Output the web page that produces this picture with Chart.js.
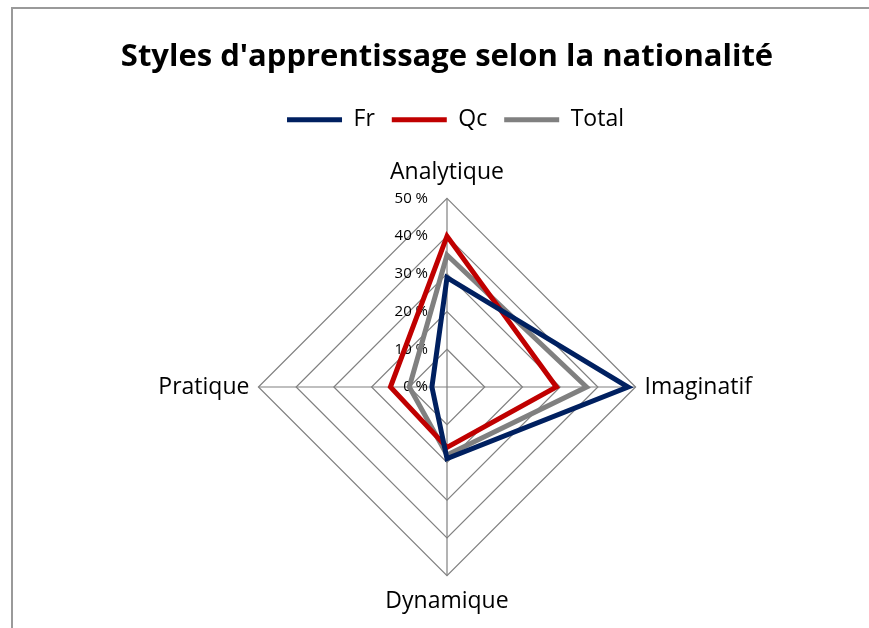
<!DOCTYPE html>
<html>
<head>
<meta charset="utf-8">
<script src="https://cdn.jsdelivr.net/npm/chart.js@4"></script>
<style>
  html, body { margin: 0; padding: 0; background: #fff; }
  #wrap { width: 869px; height: 628px; }
</style>
</head>
<body>
<div id="wrap"><canvas id="radar" width="869" height="628"></canvas></div>
<script>
var categories = ["Analytique", "Imaginatif", "Dynamique", "Pratique"];
var frValues = [29, 48, 19, 4];
var qcValues = [40, 29, 16, 15];
var totalValues = [35, 37, 18, 10];
var tickValues = [0, 10, 20, 30, 40, 50];

var font = "'Open Sans', 'DejaVu Sans', sans-serif";

var framePlugin = {
  id: "frame",
  beforeLayout: function(chart) {
    // a bit more room under the legend
    var lg = chart.legend;
    if (lg && !lg._patched) {
      var fit = lg.fit;
      lg.fit = function() {
        fit.call(this);
        this.height += 5;
      };
      lg._patched = true;
    }
  },
  afterLayout: function(chart) {
    // side padding is only meant for the plot, give the title the full width back
    if (chart.titleBlock) {
      chart.titleBlock.left = 47;
      chart.titleBlock.right = 847;
    }
  },
  beforeDraw: function(chart) {
    // frame like the excel chart border
    var ctx = chart.ctx;
    ctx.save();
    ctx.fillStyle = "#fff";
    ctx.fillRect(0, 0, chart.width, chart.height);
    ctx.strokeStyle = "#9a9a9a";
    ctx.lineWidth = 2;
    ctx.beginPath();
    ctx.moveTo(12, chart.height);
    ctx.lineTo(12, 8);
    ctx.lineTo(chart.width, 8);
    ctx.stroke();
    ctx.restore();
  }
};

// tick labels sit to the left of the vertical axis
var tickPlugin = {
  id: "leftTicks",
  beforeDatasetsDraw: function(chart) {
    var r = chart.scales.r;
    var ctx = chart.ctx;
    ctx.save();
    ctx.font = "15px " + font;
    ctx.fillStyle = "#000";
    ctx.textAlign = "right";
    ctx.textBaseline = "middle";
    tickValues.forEach(function(v) {
      var d = r.getDistanceFromCenterForValue(v);
      ctx.fillText(v + " %", r.xCenter - 19, r.yCenter - d);
    });
    ctx.restore();
  }
};

new Chart(document.getElementById("radar").getContext("2d"), {
  type: "radar",
  data: {
    labels: categories,
    datasets: [
      {
        label: "Fr",
        data: frValues,
        borderColor: "#002060",
        backgroundColor: "#002060",
        borderWidth: 5,
        borderCapStyle: "round",
        pointRadius: 0,
        fill: false
      },
      {
        label: "Qc",
        data: qcValues,
        borderColor: "#C00000",
        backgroundColor: "#C00000",
        borderWidth: 5,
        borderCapStyle: "round",
        pointRadius: 0,
        fill: false
      },
      {
        label: "Total",
        data: totalValues,
        borderColor: "#808080",
        backgroundColor: "#808080",
        borderWidth: 5,
        borderCapStyle: "round",
        pointRadius: 0,
        fill: false
      }
    ]
  },
  options: {
    responsive: false,
    animation: false,
    events: [],
    layout: {
      padding: { top: 13, left: 151, right: 109, bottom: 0 }
    },
    plugins: {
      title: {
        display: true,
        text: "Styles d'apprentissage selon la nationalité",
        color: "#000",
        font: { family: font, size: 31, weight: "bold" },
        padding: { top: 26, bottom: 15 }
      },
      legend: {
        position: "top",
        labels: {
          usePointStyle: true,
          pointStyle: "line",
          pointStyleWidth: 55,
          boxWidth: 55,
          color: "#000",
          padding: 17,
          font: { family: font, size: 23 }
        }
      },
      tooltip: { enabled: false }
    },
    scales: {
      r: {
        min: 0,
        max: 50,
        ticks: { stepSize: 10, display: false },
        grid: { color: "#808080", lineWidth: 1.2 },
        angleLines: { color: "#808080", lineWidth: 1.2 },
        pointLabels: {
          color: "#000",
          font: { family: font, size: 23 },
          padding: function(ctx) { return ctx.index % 2 === 0 ? 12 : 9; }
        }
      }
    }
  },
  plugins: [framePlugin, tickPlugin]
});
</script>
</body>
</html>
